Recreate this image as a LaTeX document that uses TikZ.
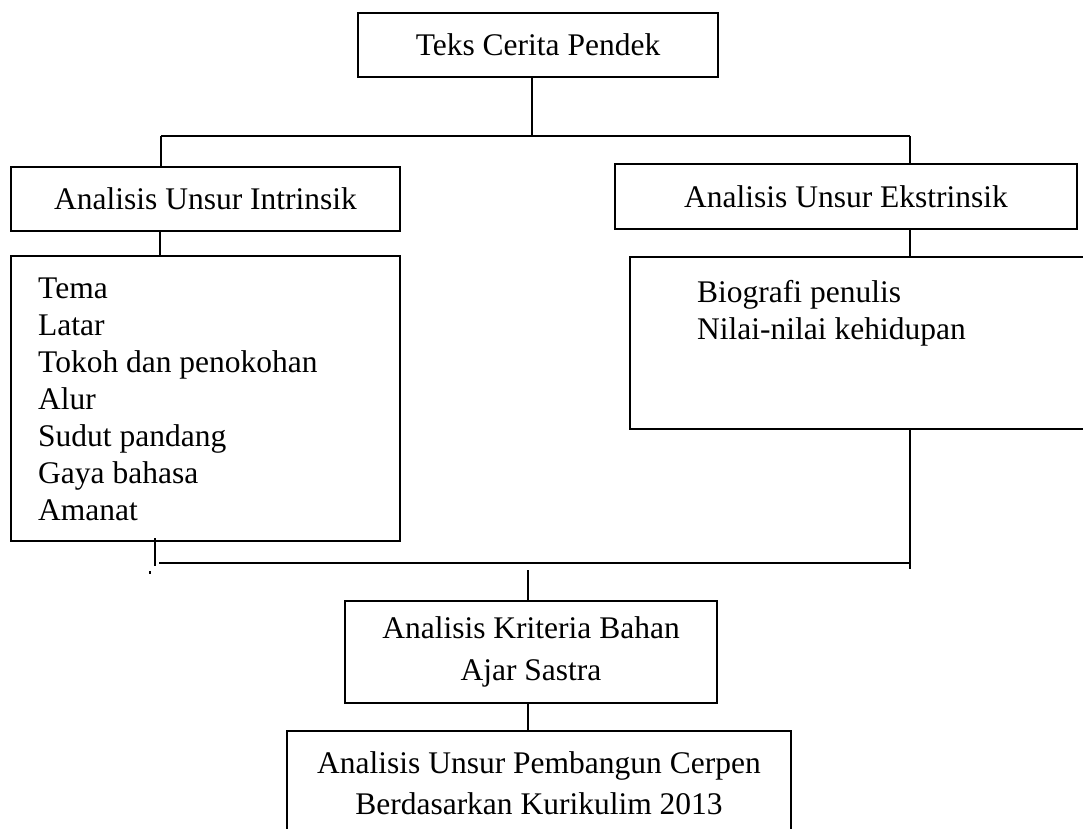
\documentclass[tikz,border=0pt]{standalone}
\usepackage{fontspec}
\setmainfont{Liberation Serif}
\begin{document}
\begin{tikzpicture}[x=1pt,y=-1pt,
  box/.style={draw, line width=1.6pt, inner sep=0pt, font=\fontsize{31.5}{42}\selectfont, align=center},
  conn/.style={line width=1.3pt},
  item/.style={anchor=base west, inner sep=0pt, font=\fontsize{31.5}{37}\selectfont},
  lbl/.style={inner sep=0pt, font=\fontsize{31.5}{41}\selectfont, align=center}]
\useasboundingbox (0,0) rectangle (1083,828);
% boxes
\node[box, minimum width=360pt, minimum height=64pt] (teks) at (538,45) {Teks Cerita Pendek};
\node[box, minimum width=389pt, minimum height=64pt] (intr) at (205.5,199) {Analisis Unsur Intrinsik};
\node[box, minimum width=462pt, minimum height=65pt] (ekst) at (846,196.5) {Analisis Unsur Ekstrinsik};
\node[box, minimum width=389pt, minimum height=285pt] (intrlist) at (205.5,398.5) {};
\node[box, minimum width=470pt, minimum height=172pt] (ekstlist) at (865,343) {};
\node[box, minimum width=372pt, minimum height=102pt] (krit) at (531,652) {Analisis Kriteria Bahan\\Ajar Sastra};
\node[box, minimum width=504pt, minimum height=149pt] (pemb) at (539,805.5) {};
\node[lbl] (pembtext) at (539,783) {Analisis Unsur Pembangun Cerpen\\Berdasarkan Kurikulim 2013};
% list items
\node[item] (i1) at (38,298) {Tema};
\node[item] (i2) at (38,335) {Latar};
\node[item] (i3) at (38,372) {Tokoh dan penokohan};
\node[item] (i4) at (38,409) {Alur};
\node[item] (i5) at (38,446) {Sudut pandang};
\node[item] (i6) at (38,483) {Gaya bahasa};
\node[item] (i7) at (38,520) {Amanat};
\node[item] (e1) at (697,302) {Biografi penulis};
\node[item] (e2) at (697,339) {Nilai-nilai kehidupan};
% connectors
\coordinate (j1) at (532,136);
\coordinate (hl) at (161,136);
\coordinate (hr) at (910,136);
\draw[conn] (teks.south -| j1) -- (j1);
\draw[line width=2pt] (hl) -- (hr);
\draw[conn] (hl) -- (intr.north -| hl);
\draw[conn] (hr) -- (ekst.north -| hr);
\coordinate (il) at (160,0);
\draw[conn] (intr.south -| il) -- (intrlist.north -| il);
\draw[conn] (ekst.south -| hr) -- (ekstlist.north -| hr);
\coordinate (bl) at (159,563);
\coordinate (br) at (910,563);
\coordinate (brend) at (910,569);
\coordinate (tk) at (155,538);
\coordinate (tk2) at (155,566);
\draw[conn] (tk) -- (tk2);
\draw[conn] (ekstlist.south -| br) -- (brend);
\draw[line width=2.4pt] (bl) -- (br);
\coordinate (mid) at (528,570);
\draw[conn] (mid) -- (krit.north -| mid);
\draw[conn] (krit.south -| mid) -- (pemb.north -| mid);
\fill (149,571) rectangle (151,574);
\end{tikzpicture}
\end{document}
